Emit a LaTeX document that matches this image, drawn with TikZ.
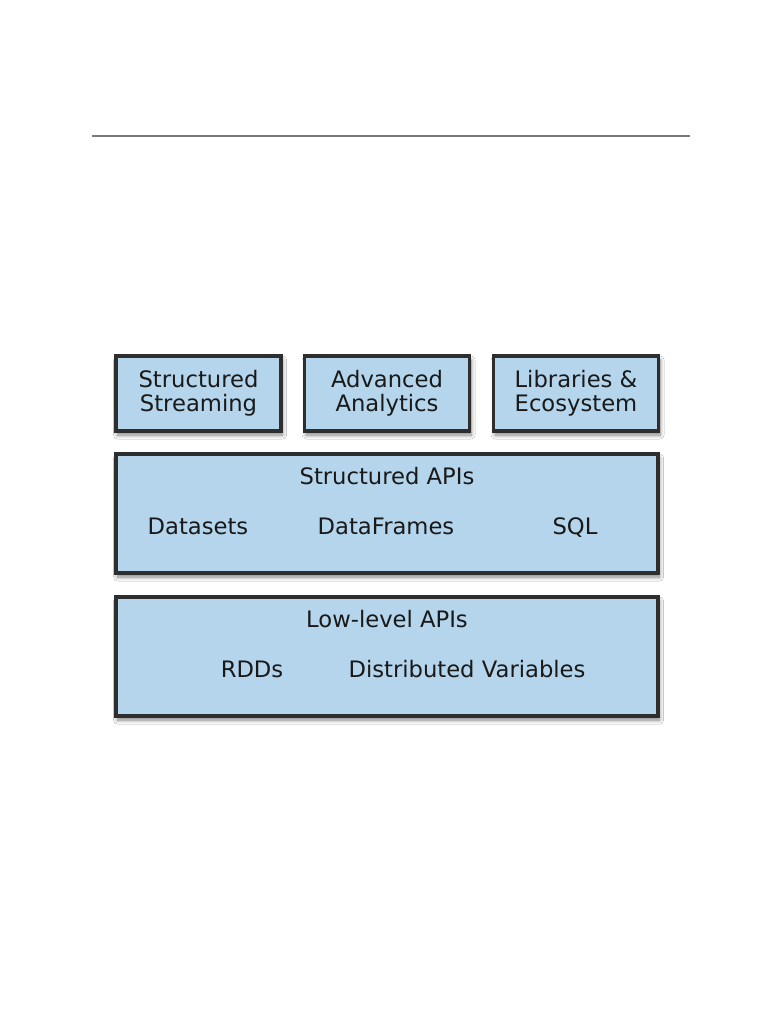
\documentclass[tikz,border=0pt]{standalone}
\usepackage{fontspec}
\setmainfont{DejaVu Sans}
\usetikzlibrary{shadows.blur}
\definecolor{boxblue}{HTML}{B4D5EB}
\definecolor{boxline}{HTML}{2E2E2E}
\definecolor{rulegray}{HTML}{7A7A7A}

\begin{document}
\begin{tikzpicture}[
  x=0.75pt, y=-0.75pt,
  layer/.style={draw=boxline, line width=2.6pt, fill=boxblue, inner sep=0pt,
    blur shadow={shadow xshift=1.2pt, shadow yshift=-3pt, shadow opacity=50,
      shadow blur radius=3pt, shadow blur steps=8}},
  small/.style={layer, minimum width=123.75pt, minimum height=56.25pt, align=center},
  wide/.style={layer, minimum width=406.5pt, minimum height=89.25pt},
  txt/.style={font=\fontsize{17}{20}\selectfont, text=black!90},
  lbl/.style={txt, text height=12.5pt, text depth=3.5pt},
]
\useasboundingbox[fill=white] (0,0) rectangle (781,1011);

% --- top rule ---
\coordinate (rl) at (92,136);
\coordinate (rr) at (690,136);
\draw[rulegray, line width=1.5pt] (rl) -- (rr);

% --- top row ---
\node[small, txt] (ss) at (198.5,393.5) {Structured\\[-2pt]Streaming};
\node[small, txt] (aa) at (387,393.5) {Advanced\\[-2pt]Analytics};
\node[small, txt] (le) at (576,393.5) {Libraries \&\\[-2pt]Ecosystem};

% --- Structured APIs ---
\node[wide] (sapi) at (387,513.5) {};
\node[lbl] (sapit) at (387,478) {Structured APIs};
\node[lbl] (ds) at (198,528) {Datasets};
\node[lbl] (df) at (386,528) {DataFrames};
\node[lbl] (sql) at (575,528) {SQL};

% --- Low-level APIs ---
\node[wide] (lapi) at (387,656.5) {};
\node[lbl] (lapit) at (387,621) {Low-level APIs};
\node[lbl] (rdd) at (252,671) {RDDs};
\node[lbl] (dv) at (467,671) {Distributed Variables};

\end{tikzpicture}
\end{document}
